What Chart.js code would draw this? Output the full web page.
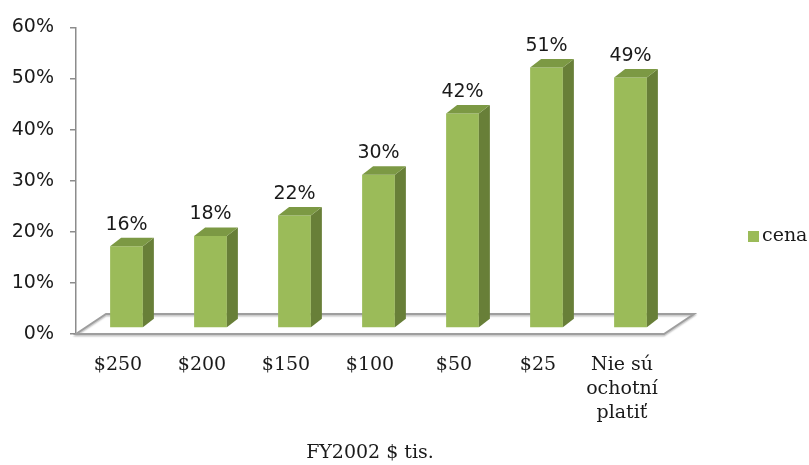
<!DOCTYPE html>
<html><head><meta charset="utf-8">
<script src="https://cdn.jsdelivr.net/npm/chart.js@4/dist/chart.umd.min.js"></script>
<style>html,body{margin:0;padding:0;background:#fff;overflow:hidden}</style>
</head><body>
<canvas id="c" width="809" height="465"></canvas>
<script>
// ---- data ----
const categories = ['$250', '$200', '$150', '$100', '$50', '$25', ['Nie sú', 'ochotní', 'platiť']];
const seriesLabel = 'cena';
const values = [16, 18, 22, 30, 42, 51, 49];
const axisTitle = 'FY2002 $ tis.';
const yMin = 0, yMax = 60, yStep = 10;

// ---- styles ----
const FRONT = '#9BBB59', SIDE = '#687F38', TOP = '#7C9944';
const SERIF = '"DejaVu Serif", serif';
const SANS = '"DejaVu Sans", sans-serif';
const TEXT = '#1a1a1a';
const DEPTH_SHIFT = { x: 8.5, y: -6 };
const BAR_DEPTH = { x: 11, y: -8.5 };
const FLOOR_DEPTH = { x: 30, y: -20 };

const plugin3d = {
  id: 'threeD',
  beforeDatasetsDraw(chart) {
    const { ctx, chartArea: a, scales: { y } } = chart;
    const y0 = y.getPixelForValue(0);
    ctx.save();
    ctx.beginPath();
    ctx.moveTo(a.left, y0);
    ctx.lineTo(a.right, y0);
    ctx.lineTo(a.right + FLOOR_DEPTH.x, y0 + FLOOR_DEPTH.y);
    ctx.lineTo(a.left + FLOOR_DEPTH.x, y0 + FLOOR_DEPTH.y);
    ctx.closePath();
    ctx.strokeStyle = '#9E9E9E';
    ctx.lineWidth = 2;
    ctx.shadowColor = 'rgba(0,0,0,0.25)';
    ctx.shadowOffsetY = 1.5;
    ctx.shadowBlur = 1.5;
    ctx.stroke();
    ctx.restore();
    ctx.save();
    ctx.translate(DEPTH_SHIFT.x, DEPTH_SHIFT.y);
  },
  afterDatasetsDraw(chart) {
    const { ctx } = chart;
    const meta = chart.getDatasetMeta(0);
    const vals = chart.data.datasets[0].data;
    meta.data.forEach((bar, i) => {
      const p = bar.getProps(['x', 'y', 'base', 'width'], true);
      const l = p.x - p.width / 2, r = p.x + p.width / 2;
      ctx.beginPath();
      ctx.moveTo(r, p.base);
      ctx.lineTo(r + BAR_DEPTH.x, p.base + BAR_DEPTH.y);
      ctx.lineTo(r + BAR_DEPTH.x, p.y + BAR_DEPTH.y);
      ctx.lineTo(r, p.y);
      ctx.closePath();
      ctx.fillStyle = SIDE; ctx.fill();
      ctx.beginPath();
      ctx.moveTo(l, p.y);
      ctx.lineTo(r, p.y);
      ctx.lineTo(r + BAR_DEPTH.x, p.y + BAR_DEPTH.y);
      ctx.lineTo(l + BAR_DEPTH.x, p.y + BAR_DEPTH.y);
      ctx.closePath();
      ctx.fillStyle = TOP; ctx.fill();
      ctx.fillStyle = TEXT;
      ctx.font = '19px ' + SANS;
      ctx.textAlign = 'center';
      ctx.textBaseline = 'middle';
      ctx.fillText(vals[i] + '%', p.x, p.y + BAR_DEPTH.y - 13);
    });
    ctx.restore();
  },
  afterDraw(chart) {
    const { ctx, chartArea: a } = chart;
    const ds = chart.data.datasets[0];
    const bx = a.right + 84, cy = chart.height / 2 + 4;
    ctx.save();
    ctx.fillStyle = ds.backgroundColor;
    ctx.fillRect(bx, cy - 5.5, 11, 11);
    ctx.fillStyle = TEXT;
    ctx.font = '19px ' + SERIF;
    ctx.textAlign = 'left';
    ctx.textBaseline = 'middle';
    ctx.fillText(ds.label, bx + 14, cy);
    ctx.restore();
  }
};

new Chart(document.getElementById('c'), {
  type: 'bar',
  data: {
    labels: categories,
    datasets: [{
      label: seriesLabel,
      data: values,
      backgroundColor: FRONT,
      borderWidth: 0,
      barPercentage: 0.39,
      categoryPercentage: 1,
      clip: false
    }]
  },
  options: {
    responsive: false,
    devicePixelRatio: 1,
    animation: false,
    layout: { padding: { left: 0, right: 145, top: 26, bottom: 0 } },
    plugins: { legend: { display: false }, tooltip: { enabled: false } },
    scales: {
      x: {
        grid: { display: false, drawTicks: false, tickLength: 0 },
        border: { display: false },
        ticks: {
          font: { family: SERIF, size: 19, lineHeight: 1.263 },
          color: TEXT, padding: 19, autoSkip: false, maxRotation: 0
        },
        title: {
          display: true, text: axisTitle, color: TEXT,
          font: { family: SERIF, size: 19, lineHeight: 1.263 },
          padding: { top: -3, bottom: 0 }
        }
      },
      y: {
        min: yMin, max: yMax,
        ticks: {
          stepSize: yStep, callback: v => v + '%', color: TEXT,
          font: { family: SANS, size: 19 }, padding: 16
        },
        grid: { drawOnChartArea: false, drawTicks: true, tickLength: 6, color: '#8c8c8c', lineWidth: 1.5 },
        border: { display: true, color: '#8c8c8c', width: 1.5 },
        afterFit(s) { s.width = 76; }
      }
    }
  },
  plugins: [plugin3d]
});
</script>
</body></html>
